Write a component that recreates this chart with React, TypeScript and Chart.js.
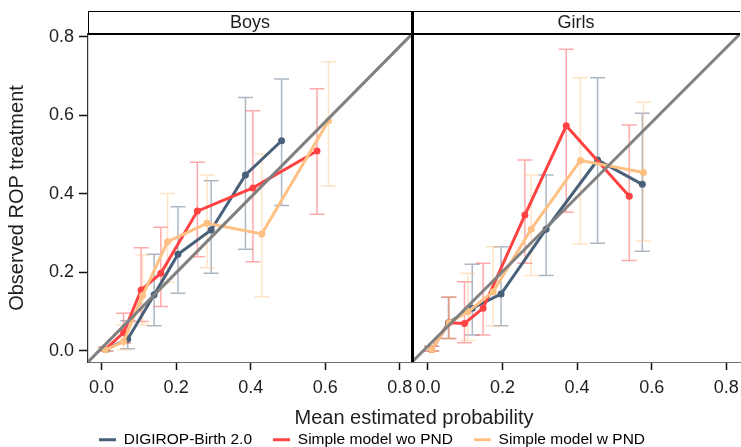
import React, { useEffect, useRef } from 'react';
import { Chart, registerables } from 'chart.js';

Chart.register(...registerables);

// ---------- axes ----------
const Y_MIN = -0.028;
const Y_MAX = 0.8066;
const XB_MIN = -0.0365;
const XB_MAX = 0.833;
const XG_MIN = -0.0427;
const XG_MAX = 0.837;
const X_TICKS = [0, 0.2, 0.4, 0.6, 0.8];
const Y_TICKS = [0, 0.2, 0.4, 0.6, 0.8];
const PANELS = ['Boys', 'Girls'];
const SERIES = ['DIGIROP-Birth 2.0', 'Simple model wo PND', 'Simple model w PND'];
const X_TITLE = 'Mean estimated probability';
const Y_TITLE = 'Observed ROP treatment';

// ---------- Boys ----------
const BOYS_DIG_X = [0.012, 0.07, 0.141, 0.205, 0.294, 0.386, 0.483];
const BOYS_DIG_Y = [0.004, 0.03, 0.143, 0.246, 0.308, 0.448, 0.535];
const BOYS_DIG_LO = [0.0, 0.006, 0.064, 0.147, 0.198, 0.259, 0.37];
const BOYS_DIG_HI = [0.01, 0.077, 0.246, 0.367, 0.433, 0.645, 0.692];

const BOYS_WO_X = [0.01, 0.059, 0.106, 0.159, 0.257, 0.406, 0.578];
const BOYS_WO_Y = [0.004, 0.047, 0.155, 0.198, 0.356, 0.415, 0.509];
const BOYS_WO_LO = [0.0, 0.02, 0.075, 0.113, 0.24, 0.227, 0.348];
const BOYS_WO_HI = [0.01, 0.096, 0.263, 0.315, 0.48, 0.611, 0.667];

const BOYS_W_X = [0.01, 0.059, 0.11, 0.177, 0.283, 0.43, 0.609];
const BOYS_W_Y = [0.003, 0.024, 0.141, 0.278, 0.325, 0.298, 0.586];
const BOYS_W_LO = [0.0, 0.003, 0.066, 0.174, 0.212, 0.138, 0.42];
const BOYS_W_HI = [0.01, 0.066, 0.244, 0.401, 0.448, 0.501, 0.736];

// ---------- Girls ----------
const GIRLS_DIG_X = [0.01, 0.055, 0.119, 0.196, 0.317, 0.455, 0.575];
const GIRLS_DIG_Y = [0.004, 0.072, 0.109, 0.145, 0.31, 0.486, 0.424];
const GIRLS_DIG_LO = [0.0, 0.032, 0.041, 0.064, 0.192, 0.274, 0.254];
const GIRLS_DIG_HI = [0.012, 0.137, 0.221, 0.265, 0.448, 0.695, 0.605];

const GIRLS_WO_X = [0.01, 0.057, 0.098, 0.148, 0.26, 0.371, 0.54];
const GIRLS_WO_Y = [0.004, 0.072, 0.07, 0.109, 0.346, 0.573, 0.394];
const GIRLS_WO_LO = [0.0, 0.032, 0.021, 0.041, 0.223, 0.353, 0.23];
const GIRLS_WO_HI = [0.012, 0.137, 0.176, 0.223, 0.486, 0.768, 0.575];

const GIRLS_W_X = [0.01, 0.057, 0.107, 0.175, 0.277, 0.409, 0.578];
const GIRLS_W_Y = [0.004, 0.072, 0.1, 0.151, 0.31, 0.485, 0.454];
const GIRLS_W_LO = [0.0, 0.032, 0.027, 0.064, 0.192, 0.272, 0.28];
const GIRLS_W_HI = [0.012, 0.137, 0.198, 0.265, 0.448, 0.695, 0.633];

// ---------- styles ----------
const FONT = '"Liberation Sans", Arial, sans-serif';
const TEXT = '#1e1e1e';
const COLORS = ['#48607a', '#ff4242', '#ffc083'];
const ERR_COLORS = ['rgba(72,96,122,0.45)', 'rgba(255,66,66,0.45)', 'rgba(255,192,131,0.45)'];
const DIAG_COLOR = '#808080';

const pts = (xs: number[], ys: number[]) => xs.map((x, i) => ({ x, y: ys[i] }));

const errorBarPlugin = {
  id: 'errbars',
  beforeDatasetsDraw(chart: any) {
    const ctx = chart.ctx;
    const ys = chart.scales.y;
    chart.data.datasets.forEach((ds: any) => {
      if (!ds.errLo) return;
      const xs = chart.scales[ds.xAxisID];
      ctx.save();
      ctx.strokeStyle = ds.errColor;
      ctx.lineWidth = 1.5;
      ds.data.forEach((p: any, i: number) => {
        const px = xs.getPixelForValue(p.x);
        const lo = ys.getPixelForValue(ds.errLo[i]);
        const hi = ys.getPixelForValue(ds.errHi[i]);
        ctx.beginPath();
        ctx.moveTo(px, lo);
        ctx.lineTo(px, hi);
        ctx.moveTo(px - 7.5, lo);
        ctx.lineTo(px + 7.5, lo);
        ctx.moveTo(px - 7.5, hi);
        ctx.lineTo(px + 7.5, hi);
        ctx.stroke();
      });
      ctx.restore();
    });
  },
};

const panelPlugin = {
  id: 'panels',
  afterDraw(chart: any) {
    const { ctx, chartArea } = chart;
    const xb = chart.scales.xb;
    const xg = chart.scales.xg;
    const stripTop = 11;
    const top = chartArea.top;
    ctx.save();
    ctx.fillStyle = TEXT;
    ctx.font = `18px ${FONT}`;
    ctx.textAlign = 'center';
    ctx.textBaseline = 'middle';
    [xb, xg].forEach((s: any, i: number) => {
      ctx.fillText(PANELS[i], (s.left + s.right) / 2, (stripTop + top) / 2 + 0.5);
    });
    ctx.strokeStyle = '#000';
    ctx.lineWidth = 1;
    ctx.beginPath();
    ctx.moveTo(chartArea.left, stripTop + 0.5);
    ctx.lineTo(chartArea.right, stripTop + 0.5);
    ctx.moveTo(chartArea.left + 0.5, stripTop);
    ctx.lineTo(chartArea.left + 0.5, top);
    ctx.stroke();
    ctx.lineWidth = 2;
    ctx.beginPath();
    ctx.moveTo(chartArea.left, top);
    ctx.lineTo(chartArea.right, top);
    ctx.stroke();
    ctx.lineWidth = 3;
    ctx.beginPath();
    ctx.moveTo(xg.left + 0.5, stripTop);
    ctx.lineTo(xg.left + 0.5, chartArea.bottom);
    ctx.stroke();
    ctx.restore();
  },
};

function makeSeries(
  label: string,
  xs: number[],
  ys: number[],
  lo: number[],
  hi: number[],
  k: number,
  axis: string,
) {
  return {
    label,
    data: pts(xs, ys),
    xAxisID: axis,
    yAxisID: 'y',
    borderColor: COLORS[k],
    backgroundColor: COLORS[k],
    pointBackgroundColor: COLORS[k],
    pointBorderWidth: 0,
    pointRadius: 3.5,
    borderWidth: 3,
    tension: 0,
    order: 3 - k,
    errLo: lo,
    errHi: hi,
    errColor: ERR_COLORS[k],
  };
}

function xScale(min: number, max: number, weight: number) {
  return {
    type: 'linear',
    position: 'bottom',
    stack: 'panels',
    stackWeight: weight,
    min,
    max,
    afterBuildTicks: (s: any) => {
      s.ticks = X_TICKS.map((v) => ({ value: v }));
    },
    afterFit: (s: any) => {
      s.height = 38;
      s.paddingLeft = 0;
      s.paddingRight = 0;
    },
    ticks: {
      callback: (v: any) => Number(v).toFixed(1),
      font: { family: FONT, size: 18 },
      color: TEXT,
      padding: 7,
      maxRotation: 0,
      autoSkip: false,
    },
    grid: {
      drawOnChartArea: false,
      drawTicks: true,
      tickLength: 8,
      tickColor: '#111',
      tickWidth: 1.5,
    },
    border: { display: true, color: '#6e6e6e', width: 1 },
  };
}

export default function App() {
  const ref = useRef<HTMLCanvasElement | null>(null);

  useEffect(() => {
    if (!ref.current) return;
    const diag = (min: number, max: number, axis: string) => ({
      label: 'diag',
      data: [
        { x: min, y: Y_MIN },
        { x: max, y: Y_MAX },
      ],
      xAxisID: axis,
      yAxisID: 'y',
      borderColor: DIAG_COLOR,
      borderWidth: 3,
      pointRadius: 0,
      order: 0,
    });
    const datasets: any[] = [
      diag(XB_MIN, XB_MAX, 'xb'),
      diag(XG_MIN, XG_MAX, 'xg'),
      makeSeries(SERIES[0], BOYS_DIG_X, BOYS_DIG_Y, BOYS_DIG_LO, BOYS_DIG_HI, 0, 'xb'),
      makeSeries(SERIES[1], BOYS_WO_X, BOYS_WO_Y, BOYS_WO_LO, BOYS_WO_HI, 1, 'xb'),
      makeSeries(SERIES[2], BOYS_W_X, BOYS_W_Y, BOYS_W_LO, BOYS_W_HI, 2, 'xb'),
      makeSeries(SERIES[0], GIRLS_DIG_X, GIRLS_DIG_Y, GIRLS_DIG_LO, GIRLS_DIG_HI, 0, 'xg'),
      makeSeries(SERIES[1], GIRLS_WO_X, GIRLS_WO_Y, GIRLS_WO_LO, GIRLS_WO_HI, 1, 'xg'),
      makeSeries(SERIES[2], GIRLS_W_X, GIRLS_W_Y, GIRLS_W_LO, GIRLS_W_HI, 2, 'xg'),
    ];

    const chart = new Chart(ref.current, {
      type: 'line',
      data: { datasets },
      plugins: [errorBarPlugin, panelPlugin],
      options: {
        responsive: false,
        animation: false,
        devicePixelRatio: 1,
        layout: { padding: { top: 34, left: 0, right: 0, bottom: 0 } },
        scales: {
          xb: xScale(XB_MIN, XB_MAX, 326),
          xg: xScale(XG_MIN, XG_MAX, 330),
          y: {
            type: 'linear',
            position: 'left',
            min: Y_MIN,
            max: Y_MAX,
            afterBuildTicks: (s: any) => {
              s.ticks = Y_TICKS.map((v) => ({ value: v }));
            },
            afterFit: (s: any) => {
              s.width = 88;
              s.paddingTop = 0;
              s.paddingBottom = 0;
            },
            ticks: {
              callback: (v: any) => Number(v).toFixed(1),
              font: { family: FONT, size: 18 },
              color: TEXT,
              padding: 5,
            },
            grid: {
              drawOnChartArea: false,
              drawTicks: true,
              tickLength: 9,
              tickColor: '#111',
              tickWidth: 1.5,
            },
            border: { display: true, color: '#333', width: 1.2 },
            title: {
              display: true,
              text: Y_TITLE,
              font: { family: FONT, size: 20 },
              color: TEXT,
              padding: { top: 5, bottom: 0 },
            },
          },
        } as any,
        plugins: {
          tooltip: { enabled: false },
          title: {
            display: true,
            position: 'bottom',
            text: X_TITLE,
            font: { family: FONT, size: 20, weight: 'normal' },
            color: TEXT,
            padding: { top: 6, bottom: -19 },
            fullSize: false,
            weight: 500,
          } as any,
          legend: {
            display: true,
            position: 'bottom',
            maxHeight: 36,
            labels: {
              font: { family: FONT, size: 15.5 },
              color: TEXT,
              boxWidth: 17,
              boxHeight: 3,
              padding: 21,
              generateLabels: () =>
                SERIES.map((s, i) => ({
                  text: s,
                  fillStyle: COLORS[i],
                  strokeStyle: COLORS[i],
                  lineWidth: 0,
                  hidden: false,
                  datasetIndex: i + 2,
                })),
            },
          } as any,
        },
      },
    });
    return () => chart.destroy();
  }, []);

  return (
    <div
      style={{
        position: 'fixed',
        left: 0,
        top: 0,
        width: 741,
        height: 447,
        overflow: 'hidden',
        background: '#fff',
      }}
    >
      <canvas ref={ref} width={744} height={447} style={{ display: 'block', width: 744, height: 447 }} />
    </div>
  );
}
